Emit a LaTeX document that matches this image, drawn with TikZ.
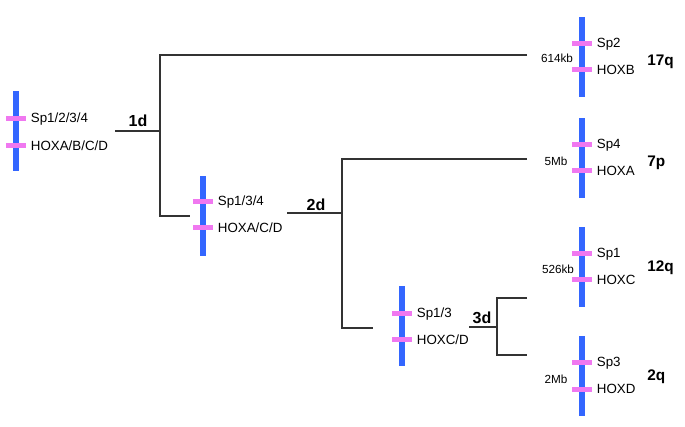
\documentclass[tikz,border=0pt]{standalone}
\usepackage{fontspec}
\setmainfont{Liberation Sans}
\usepackage{tikz}
\usetikzlibrary{positioning}
\definecolor{chrblue}{RGB}{51,102,255}
\definecolor{bandpink}{RGB}{240,120,240}

\begin{document}
\begin{tikzpicture}[
    x=0.75pt, y=-0.75pt,
    every node/.style={font=\fontsize{10}{12}\selectfont},
    % Chromosome styles
    chrbar/.style={
      rectangle, draw=none, fill=chrblue,
      minimum width=4.2pt, minimum height=60pt, inner sep=0pt
    },
    band/.style={
      rectangle, draw=none, fill=bandpink,
      minimum width=15pt, minimum height=3.75pt, inner sep=0pt
    },
    gene/.style={inner sep=0pt},
    dist/.style={font=\fontsize{8.8}{10}\selectfont, inner sep=0pt},
    chrname/.style={font=\fontsize{11.5}{13}\bfseries\selectfont, inner sep=0pt, anchor=west},
    dup/.style={font=\fontsize{12}{14}\bfseries\selectfont, inner sep=0pt},
    % Tree lines
    tree/.style={line width=0.85pt, color=black!80}
  ]
  \useasboundingbox (0,0) rectangle (685,427);

  % ============ Ancestral chromosome ============
  \node[chrbar] (ancchr) at (16,131) {};
  \node[band] (ancsp) at (16,119) {};
  \node[band] (anchox) at (16,146) {};
  \node[gene, right=3.3pt of ancsp] (ancsplbl) {Sp1/2/3/4};
  \node[gene, right=3.3pt of anchox] (anchoxlbl) {HOXA/B/C/D};

  % ============ After 1st duplication ============
  \node[chrbar] (acdchr) at (203,216) {};
  \node[band] (acdsp) at (203,202) {};
  \node[band] (acdhox) at (203,228) {};
  \node[gene, right=3.3pt of acdsp] (acdsplbl) {Sp1/3/4};
  \node[gene, right=3.3pt of acdhox] (acdhoxlbl) {HOXA/C/D};

  % ============ After 2nd duplication ============
  \node[chrbar] (cdchr) at (402,326) {};
  \node[band] (cdsp) at (402,314) {};
  \node[band] (cdhox) at (402,340) {};
  \node[gene, right=3.3pt of cdsp] (cdsplbl) {Sp1/3};
  \node[gene, right=3.3pt of cdhox] (cdhoxlbl) {HOXC/D};

  % ============ Human chromosomes ============
  % 17q
  \node[chrbar] (chrb) at (582,57) {};
  \node[band] (bsp) at (582,44) {};
  \node[band] (bhox) at (582,70) {};
  \node[gene, right=3.3pt of bsp] (bsplbl) {Sp2};
  \node[gene, right=3.3pt of bhox] (bhoxlbl) {HOXB};
  \node[dist] (bdist) at (557,58) {614kb};
  \node[chrname] (bname) at (647,62) {17q};
  % 7p
  \node[chrbar] (chra) at (582,158) {};
  \node[band] (asp) at (582,145) {};
  \node[band] (ahox) at (582,171) {};
  \node[gene, right=3.3pt of asp] (asplbl) {Sp4};
  \node[gene, right=3.3pt of ahox] (ahoxlbl) {HOXA};
  \node[dist] (adist) at (556,161) {5Mb};
  \node[chrname] (aname) at (647,163) {7p};
  % 12q
  \node[chrbar] (chrc) at (582,267) {};
  \node[band] (csp) at (582,254) {};
  \node[band] (chox) at (582,280) {};
  \node[gene, right=3.3pt of csp] (csplbl) {Sp1};
  \node[gene, right=3.3pt of chox] (choxlbl) {HOXC};
  \node[dist] (cdist) at (558,269) {526kb};
  \node[chrname] (cname) at (647,268) {12q};
  % 2q
  \node[chrbar] (chrd) at (582,376) {};
  \node[band] (dsp) at (582,363) {};
  \node[band] (dhox) at (582,389) {};
  \node[gene, right=3.3pt of dsp] (dsplbl) {Sp3};
  \node[gene, right=3.3pt of dhox] (dhoxlbl) {HOXD};
  \node[dist] (ddist) at (556,379) {2Mb};
  \node[chrname] (dname) at (647,377) {2q};

  % ============ Tree coordinates ============
  \coordinate (d1in) at (115,131);
  \coordinate (d1) at (160,131);
  \coordinate (d1out) at (190,216);
  \coordinate (tob) at (527,55);
  \coordinate (d2in) at (287,213);
  \coordinate (d2) at (342,213);
  \coordinate (d2out) at (373,328);
  \coordinate (toa) at (527,159);
  \coordinate (d3in) at (469,327);
  \coordinate (d3) at (497,327);
  \coordinate (toc) at (527,298);
  \coordinate (tod) at (527,355);

  % ============ Duplication tree ============
  % 1st round
  \draw[tree] (d1in) -- (d1);
  \draw[tree] (tob) -| (d1) |- (d1out);
  \node[dup] (d1lbl) at (138,121) {1d};
  % 2nd round
  \draw[tree] (d2in) -- (d2);
  \draw[tree] (toa) -| (d2) |- (d2out);
  \node[dup] (d2lbl) at (316,205) {2d};
  % 3rd round
  \draw[tree] (d3in) -- (d3);
  \draw[tree] (toc) -| (d3) |- (tod);
  \node[dup] (d3lbl) at (482,318) {3d};

\end{tikzpicture}
\end{document}
